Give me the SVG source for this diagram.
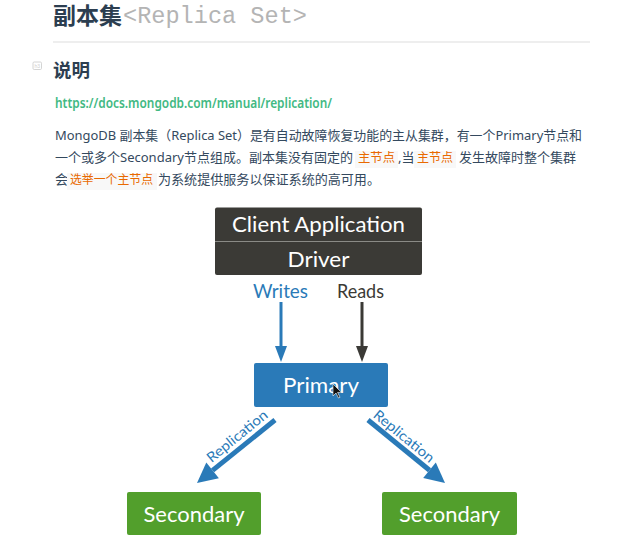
<svg xmlns="http://www.w3.org/2000/svg" width="642" height="543" viewBox="0 0 642 543">
<defs>
<style>
.cjk{font-family:"Noto Sans","Noto Sans CJK SC",sans-serif;}
.h{fill:#2c3e50;font-weight:bold;}
.p{fill:#34495e;font-size:13px;}
.code{fill:#e96900;font-size:12.5px;}
.codebg{fill:#f8f8f8;}
.dg{font-family:Lato,"Liberation Sans",sans-serif;}
.box-label{fill:#ffffff;font-size:22px;text-anchor:middle;}
.rep{fill:#2a7ab8;font-size:14px;text-anchor:middle;}
</style>
</defs>
<rect width="642" height="543" fill="#ffffff"/>

<!-- page text -->
<text x="53" y="24" class="cjk h" font-size="23" font-family="'Noto Sans CJK SC',sans-serif">副本集</text>
<text x="123" y="23" font-family="'Liberation Mono',monospace" font-size="23.5" fill="#b4b4b4" textLength="184" lengthAdjust="spacingAndGlyphs">&lt;Replica Set&gt;</text>
<line x1="53" y1="42" x2="590" y2="42" stroke="#eeeeee" stroke-width="2"/>
<rect x="33" y="62" width="8.5" height="7.5" rx="1.2" fill="none" stroke="#cfcfcf" stroke-width="0.9"/>
<text x="37.2" y="67.8" font-family="'Liberation Sans',sans-serif" font-size="5" fill="#cfcfcf" text-anchor="middle">h3</text>
<text x="53" y="77" class="cjk h" font-size="18.5">说明</text>
<text x="55" y="108" class="cjk" font-size="13.5" font-weight="600" fill="#42b983" textLength="277" lengthAdjust="spacingAndGlyphs">https://docs.mongodb.com/manual/replication/</text>

<text x="55" y="140" class="cjk p" textLength="527" lengthAdjust="spacingAndGlyphs">MongoDB 副本集（Replica Set）是有自动故障恢复功能的主从集群，有一个Primary节点和</text>

<text x="55" y="162" class="cjk p" textLength="298" lengthAdjust="spacingAndGlyphs">一个或多个Secondary节点组成。副本集没有固定的</text>
<rect x="355" y="151" width="43" height="17" class="codebg"/>
<text x="358" y="162" class="cjk code" textLength="37" lengthAdjust="spacingAndGlyphs">主节点</text>
<text x="398" y="162" class="cjk p">,当</text>
<rect x="414" y="151" width="42" height="17" class="codebg"/>
<text x="417" y="162" class="cjk code" textLength="36" lengthAdjust="spacingAndGlyphs">主节点</text>
<text x="459" y="162" class="cjk p" textLength="117" lengthAdjust="spacingAndGlyphs">发生故障时整个集群</text>

<text x="55" y="184" class="cjk p">会</text>
<rect x="67" y="173" width="90" height="17" class="codebg"/>
<text x="70" y="184" class="cjk code" textLength="83" lengthAdjust="spacingAndGlyphs">选举一个主节点</text>
<text x="158" y="184" class="cjk p" textLength="222" lengthAdjust="spacingAndGlyphs">为系统提供服务以保证系统的高可用。</text>

<!-- connectors -->
<g id="connectors">
<line x1="281" y1="302" x2="281" y2="348" stroke="#2a7ab8" stroke-width="3"/>
<path d="M275,346 L287,346 L281,362 Z" fill="#2a7ab8"/>
<line x1="362" y1="302" x2="362" y2="348" stroke="#3b3a36" stroke-width="3"/>
<path d="M356,346 L368,346 L362,362 Z" fill="#3b3a36"/>

<line x1="275" y1="420" x2="212.6" y2="470.4" stroke="#2a7ab8" stroke-width="5"/>
<path d="M197,483 L218.9,478.2 L206.3,462.6 Z" fill="#2a7ab8"/>
<text class="dg rep" transform="translate(237,436) rotate(-39)" y="5" textLength="74" lengthAdjust="spacingAndGlyphs">Replication</text>

<line x1="368" y1="420" x2="429.5" y2="470.3" stroke="#2a7ab8" stroke-width="5"/>
<path d="M445,483 L423.2,478 L435.8,462.6 Z" fill="#2a7ab8"/>
<text class="dg rep" transform="translate(404,436) rotate(39.3)" y="5" textLength="74" lengthAdjust="spacingAndGlyphs">Replication</text>

<text x="280.5" y="298" class="dg" font-size="19" fill="#2a7ab8" text-anchor="middle" textLength="55" lengthAdjust="spacingAndGlyphs">Writes</text>
<text x="360.5" y="298" class="dg" font-size="19" fill="#3b3a36" text-anchor="middle" textLength="47" lengthAdjust="spacingAndGlyphs">Reads</text>
</g>

<!-- nodes -->
<g id="node-client">
<rect x="215" y="207.5" width="207" height="67.5" rx="2" fill="#3b3a36"/>
<line x1="215" y1="241.5" x2="422" y2="241.5" stroke="#8a8a86" stroke-width="1"/>
<text x="318.5" y="232" class="dg box-label" textLength="173" lengthAdjust="spacingAndGlyphs">Client Application</text>
<text x="318.5" y="267" class="dg box-label" textLength="62" lengthAdjust="spacingAndGlyphs">Driver</text>
</g>

<g id="node-primary">
<rect x="254" y="363" width="134" height="44" rx="2" fill="#2a7ab8"/>
<text x="321" y="393" class="dg box-label" textLength="76" lengthAdjust="spacingAndGlyphs">Primary</text>
<path d="M333,384 L333,396 L336,393 L338.5,398 L340,397.3 L337.6,392.4 L341.5,392.4 Z" fill="#111" stroke="#fff" stroke-width="0.6"/>
</g>

<g id="node-secondary-1">
<rect x="127" y="492" width="134" height="43" rx="2" fill="#529f2c"/>
<text x="194" y="522" class="dg box-label" textLength="101" lengthAdjust="spacingAndGlyphs">Secondary</text>
</g>

<g id="node-secondary-2">
<rect x="382" y="492" width="135" height="43" rx="2" fill="#529f2c"/>
<text x="449.5" y="522" class="dg box-label" textLength="101" lengthAdjust="spacingAndGlyphs">Secondary</text>
</g>
</svg>
